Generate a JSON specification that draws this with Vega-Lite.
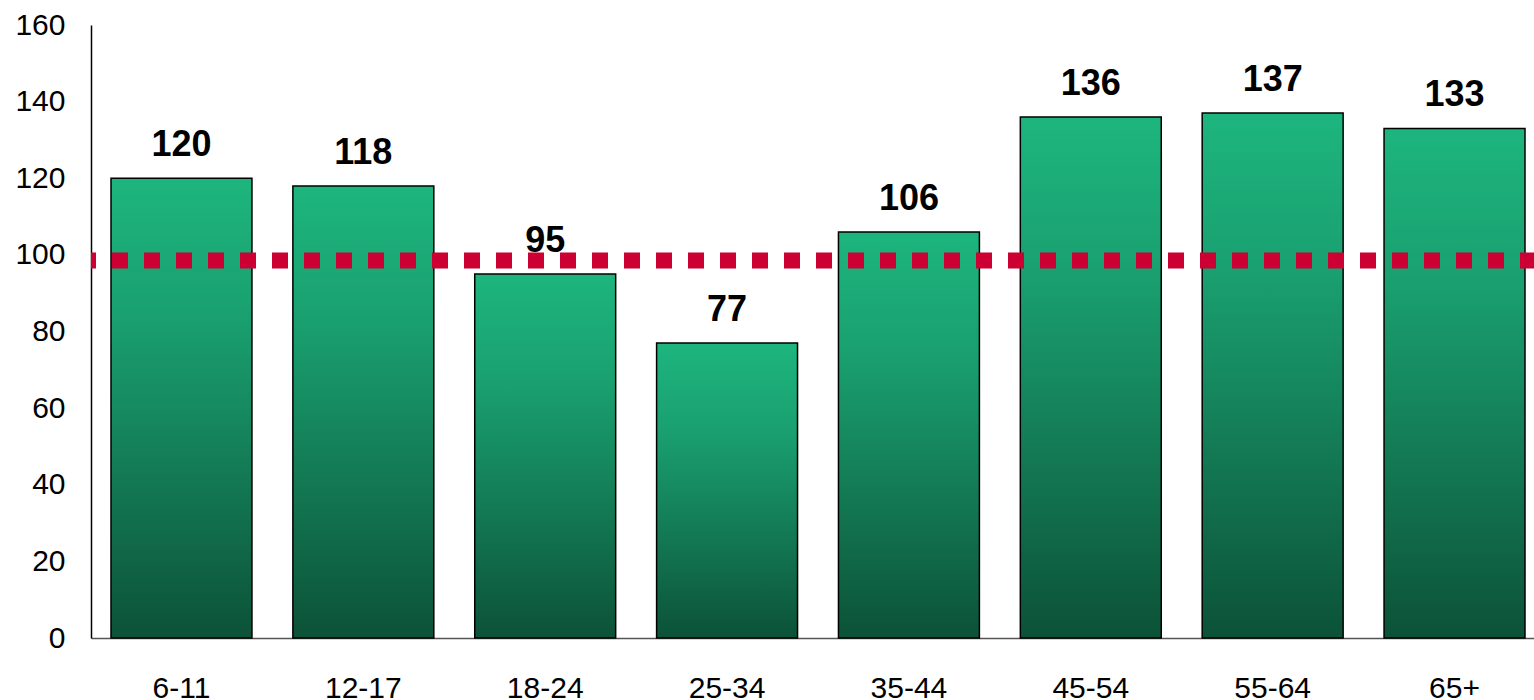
{
  "$schema": "https://vega.github.io/schema/vega-lite/v6.json",
  "autosize": "none",
  "width": 1443,
  "height": 613,
  "padding": {"left": 91, "top": 25, "right": 0, "bottom": 62},
  "background": "white",
  "config": {"view": {"stroke": null}, "font": "Liberation Sans"},
  "data": {"values": [
    {"age": "6-11", "index": 120},
    {"age": "12-17", "index": 118},
    {"age": "18-24", "index": 95},
    {"age": "25-34", "index": 77},
    {"age": "35-44", "index": 106},
    {"age": "45-54", "index": 136},
    {"age": "55-64", "index": 137},
    {"age": "65+", "index": 133}
  ]},
  "encoding": {
    "x": {"field": "age", "type": "nominal", "sort": null,
      "scale": {"range": [0, 1454], "paddingInner": 0.225, "paddingOuter": 0.11},
      "axis": {"title": null, "labelAngle": 0, "labelFontSize": 30, "labelColor": "#000", "labelPadding": 35, "ticks": false, "domainColor": "#555", "domainWidth": 1.5}},
    "y": {"field": "index", "type": "quantitative",
      "scale": {"domain": [0, 160]},
      "axis": {"title": null, "values": [0,20,40,60,80,100,120,140,160], "labelFontSize": 30, "labelColor": "#000", "labelPadding": 26, "ticks": false, "grid": false, "domainColor": "#000", "domainWidth": 1.5}}
  },
  "layer": [
    {"mark": {"type": "bar", "stroke": "#000", "strokeWidth": 1.5,
      "color": {"gradient": "linear", "x1": 0, "y1": 0, "x2": 0, "y2": 1,
        "stops": [
          {"offset": 0, "color": "#1db57e"},
          {"offset": 0.3, "color": "#1aa070"},
          {"offset": 1, "color": "#0c5238"}
        ]}}},
    {"mark": {"type": "text", "baseline": "alphabetic", "dy": -22, "fontSize": 36, "fontWeight": "bold", "color": "#000"},
      "encoding": {"text": {"field": "index", "type": "quantitative"}}},
    {"data": {"values": [{"ref": 98.5}]},
      "mark": {"type": "rule", "color": "#cc0033", "strokeWidth": 16, "strokeDash": [16, 16], "strokeDashOffset": 2},
      "encoding": {"y": {"field": "ref", "type": "quantitative"}, "x": null}}
  ]
}
